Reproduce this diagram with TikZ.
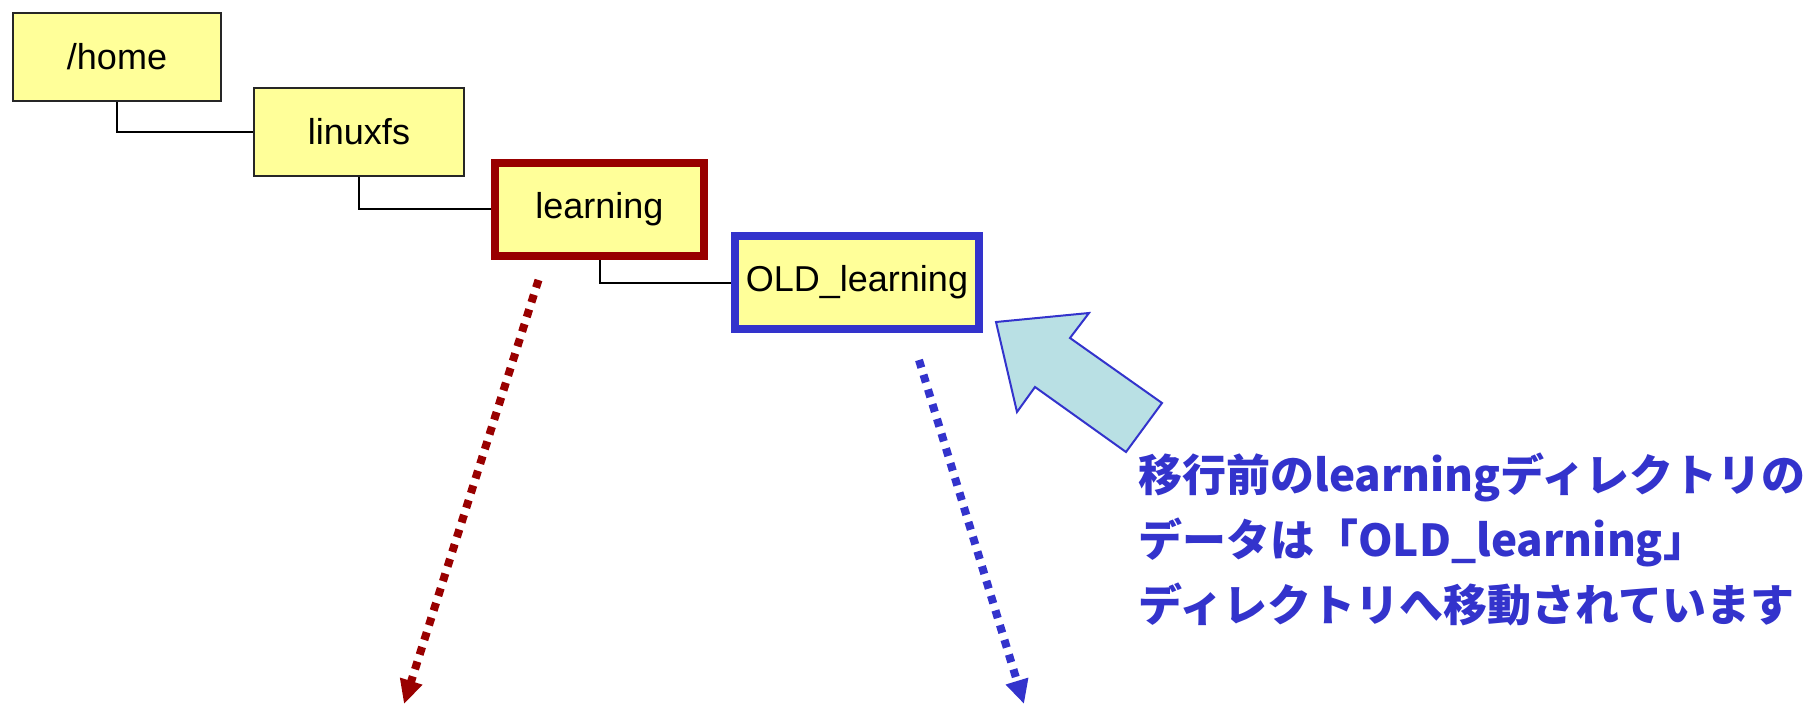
\documentclass[tikz,border=0pt]{standalone}
\usepackage{fontspec}
\setmainfont{Liberation Sans}
\newfontfamily\jpfont{Noto Sans CJK JP}
\usetikzlibrary{arrows.meta, positioning}
\definecolor{box_yellow}{HTML}{FFFF99}
\definecolor{dark_red}{HTML}{990000}
\definecolor{note_blue}{HTML}{3333CC}
\definecolor{pointer_cyan}{HTML}{B9E0E4}
\tikzset{
  dir_box/.style={
      rectangle,
      draw=black!85, fill=box_yellow,
      line width=1pt,
      minimum width=104pt,
      minimum height=44pt,
      text centered,
      font=\fontsize{18pt}{21pt}\selectfont,
    },
  current_dir/.style={
      draw=dark_red,
      line width=4pt,
      minimum width=104.5pt,
      minimum height=46.5pt,
    },
  old_dir/.style={
      draw=note_blue,
      line width=4pt,
      minimum width=122pt,
      minimum height=46.5pt,
    },
  tree_line/.style={
      line width=1pt,
    },
  move_arrow/.style={
      draw=#1,
      line width=4pt,
      dash pattern=on 4pt off 3.7pt,
      -{Triangle[length=12pt, width=11pt]},
    },
  pointer/.style={
      draw=note_blue, fill=pointer_cyan,
      line width=1pt, line join=miter,
    },
  note/.style={
      text=note_blue,
      align=left,
      inner sep=0pt,
      font=\jpfont\bfseries\fontsize{22pt}{32.5pt}\selectfont,
    },
}

\begin{document}
\begin{tikzpicture}[x=0.5pt, y=-0.5pt]
  \useasboundingbox (0,0) rectangle (1812,706);
  \node[dir_box, anchor=north west] (home) at (12,12) {/home};
  \node[dir_box, minimum width=105pt, below right=-7.5pt and 15.5pt of home] (linuxfs) {linuxfs};
  \node[dir_box, current_dir, below right=-9pt and 13pt of linuxfs] (learning) {learning};
  \node[dir_box, old_dir, below right=-14pt and 11.5pt of learning] (old_learning) {OLD\_learning};
  \draw[tree_line] (home.south) |- (linuxfs.west);
  \draw[tree_line] (linuxfs.south) |- (learning.west);
  \draw[tree_line] (learning.south) |- (old_learning.west);
  \coordinate (red_end) at (404,704);
  \coordinate (blue_end) at (1024,704);
  \draw[move_arrow=dark_red] ([xshift=-30.5pt, yshift=-10pt]learning.south) -- (red_end);
  \draw[move_arrow=note_blue] ([xshift=31pt, yshift=-13.5pt]old_learning.south) -- (blue_end);
  % block arrow pointing at OLD_learning
  \draw[pointer] (996,322) -- (1089,313) -- (1070,338) -- (1162,403) -- (1126,452) -- (1035,387) -- (1017,412) -- cycle;
  \node[note, anchor=north west] (note) at (1138,452) {移行前のlearningディレクトリの\\データは「OLD\_learning」\\ディレクトリへ移動されています};
\end{tikzpicture}
\end{document}
